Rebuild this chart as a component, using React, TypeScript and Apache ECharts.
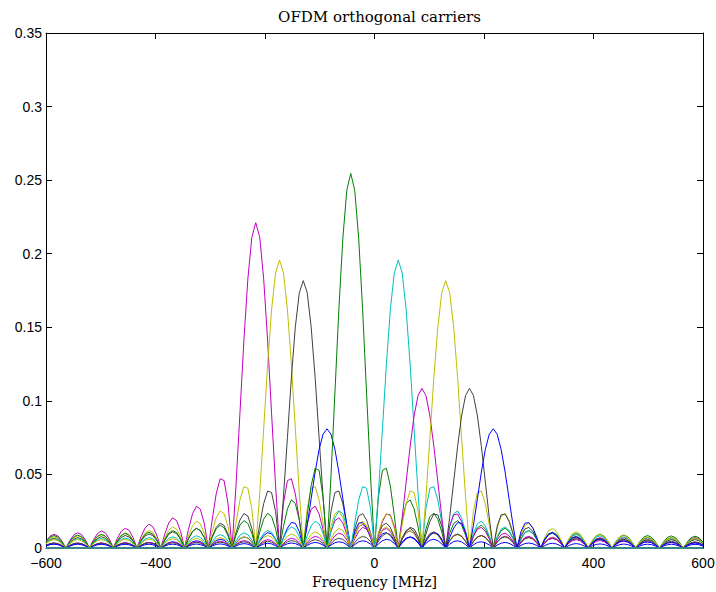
import React, { useEffect, useRef } from "react";
import * as echarts from "echarts";

// Frequency grid of the spectrum samples, MHz
const freqMHz = [
  -600, -592.8, -585.5, -578.3, -571.1, -563.9, -556.6, -549.4, -542.2, -534.9,
  -527.7, -520.5, -513.3, -506.0, -498.8, -491.6, -484.3, -477.1, -469.9, -462.7,
  -455.4, -448.2, -441.0, -433.7, -426.5, -419.3, -412.0, -404.8, -397.6, -390.4,
  -383.1, -375.9, -368.7, -361.4, -354.2, -347.0, -339.8, -332.5, -325.3, -318.1,
  -310.8, -303.6, -296.4, -289.2, -281.9, -274.7, -267.5, -260.2, -253.0, -245.8,
  -238.6, -231.3, -224.1, -216.9, -209.6, -202.4, -195.2, -188.0, -180.7, -173.5,
  -166.3, -159.0, -151.8, -144.6, -137.3, -130.1, -122.9, -115.7, -108.4, -101.2,
  -94.0, -86.7, -79.5, -72.3, -65.1, -57.8, -50.6, -43.4, -36.1, -28.9,
  -21.7, -14.5, -7.2,
  0,
  7.2, 14.5, 21.7, 28.9, 36.1, 43.4, 50.6, 57.8, 65.1, 72.3,
  79.5, 86.7, 94.0, 101.2, 108.4, 115.7, 122.9, 130.1, 137.3, 144.6,
  151.8, 159.0, 166.3, 173.5, 180.7, 188.0, 195.2, 202.4, 209.6, 216.9,
  224.1, 231.3, 238.6, 245.8, 253.0, 260.2, 267.5, 274.7, 281.9, 289.2,
  296.4, 303.6, 310.8, 318.1, 325.3, 332.5, 339.8, 347.0, 354.2, 361.4,
  368.7, 375.9, 383.1, 390.4, 397.6, 404.8, 412.0, 419.3, 426.5, 433.7,
  441.0, 448.2, 455.4, 462.7, 469.9, 477.1, 484.3, 491.6, 498.8, 506.0,
  513.3, 520.5, 527.7, 534.9, 542.2, 549.4, 556.6, 563.9, 571.1, 578.3,
  585.5, 592.8, 600,
];

// Magnitude spectra of the active subcarriers, in units of 1e-4
const carrierN5 = [
  45, 80, 93, 82, 48,
  0, 50, 88, 103, 91, 53,
  0, 56, 98, 116, 103, 61,
  0, 64, 113, 134, 120, 71,
  0, 76, 135, 162, 145, 87,
  0, 94, 170, 205, 186, 113,
  0, 126, 231, 284, 264, 164,
  0, 193, 367, 471, 458, 302,
  0, 423, 915, 1408, 1829, 2111,
  2211,
  2111, 1829, 1408, 915, 423, 0,
  302, 458, 471, 367, 193, 0,
  164, 264, 284, 231, 126, 0,
  113, 186, 205, 170, 94, 0,
  87, 145, 162, 135, 76, 0,
  71, 120, 134, 113, 64, 0,
  61, 103, 116, 98, 56, 0,
  53, 91, 103, 88, 50, 0,
  48, 82, 93, 80, 45, 0,
  44, 75, 86, 74, 42, 0,
  41, 70, 81, 69, 40, 0,
  39, 67, 76, 66, 38, 0,
  37, 64, 73, 63, 36, 0,
  36, 62, 71, 61, 35, 0,
  35, 61, 70, 60, 35, 0,
  35, 60, 69, 60, 35, 0,
  35, 60, 69, 60, 35, 0,
  35, 60, 70, 61, 35, 0,
  35, 61, 71, 62, 36,
];

const carrierN4 = [
  37, 65, 76, 67, 39,
  0, 40, 70, 83, 73, 43,
  0, 44, 77, 91, 80, 47,
  0, 49, 87, 103, 91, 54,
  0, 56, 100, 119, 106, 63,
  0, 67, 120, 143, 128, 77,
  0, 83, 150, 182, 165, 100,
  0, 111, 205, 252, 233, 145,
  0, 171, 325, 417, 406, 268,
  0, 374, 810, 1246, 1619, 1869,
  1957,
  1869, 1619, 1246, 810, 374, 0,
  268, 406, 417, 325, 171, 0,
  145, 233, 252, 205, 111, 0,
  100, 165, 182, 150, 83, 0,
  77, 128, 143, 120, 67, 0,
  63, 106, 119, 100, 56, 0,
  54, 91, 103, 87, 49, 0,
  47, 80, 91, 77, 44, 0,
  43, 73, 83, 70, 40, 0,
  39, 67, 76, 65, 37, 0,
  36, 62, 71, 61, 35, 0,
  34, 59, 68, 58, 33, 0,
  33, 57, 65, 56, 32, 0,
  32, 55, 63, 54, 31, 0,
  31, 54, 62, 53, 31, 0,
  31, 53, 61, 53, 31, 0,
  31, 53, 61, 53, 31, 0,
  31, 53, 62, 54, 31,
];

const carrierN3 = [
  32, 57, 66, 58, 34,
  0, 35, 60, 71, 62, 36,
  0, 37, 65, 77, 67, 40,
  0, 41, 72, 85, 75, 44,
  0, 46, 81, 95, 84, 50,
  0, 52, 93, 110, 98, 58,
  0, 62, 111, 133, 119, 71,
  0, 77, 140, 169, 153, 93,
  0, 103, 190, 234, 217, 134,
  0, 159, 302, 387, 377, 248,
  0, 347, 752, 1157, 1503, 1735,
  1817,
  1735, 1503, 1157, 752, 347, 0,
  248, 377, 387, 302, 159, 0,
  134, 217, 234, 190, 103, 0,
  93, 153, 169, 140, 77, 0,
  71, 119, 133, 111, 62, 0,
  58, 98, 110, 93, 52, 0,
  50, 84, 95, 81, 46, 0,
  44, 75, 85, 72, 41, 0,
  40, 67, 77, 65, 37, 0,
  36, 62, 71, 60, 35, 0,
  34, 58, 66, 57, 32, 0,
  32, 55, 63, 54, 31, 0,
  31, 53, 60, 52, 30, 0,
  30, 51, 59, 50, 29, 0,
  29, 50, 57, 50, 29, 0,
  28, 49, 57, 49, 28, 0,
  28, 49, 57, 49, 28,
];

const carrierN2 = [
  14, 24, 28, 24, 14,
  0, 14, 25, 30, 26, 15,
  0, 15, 27, 32, 28, 16,
  0, 17, 29, 34, 30, 18,
  0, 18, 32, 38, 33, 20,
  0, 20, 36, 42, 38, 22,
  0, 23, 42, 49, 44, 26,
  0, 28, 50, 59, 53, 32,
  0, 34, 62, 75, 68, 41,
  0, 46, 85, 104, 97, 60,
  0, 71, 135, 173, 168, 111,
  0, 155, 335, 516, 670, 773,
  810,
  773, 670, 516, 335, 155, 0,
  111, 168, 173, 135, 71, 0,
  60, 97, 104, 85, 46, 0,
  41, 68, 75, 62, 34, 0,
  32, 53, 59, 50, 28, 0,
  26, 44, 49, 42, 23, 0,
  22, 38, 42, 36, 20, 0,
  20, 33, 38, 32, 18, 0,
  18, 30, 34, 29, 17, 0,
  16, 28, 32, 27, 15, 0,
  15, 26, 30, 25, 14, 0,
  14, 24, 28, 24, 14, 0,
  14, 23, 27, 23, 13, 0,
  13, 23, 26, 23, 13, 0,
  13, 22, 26, 22, 13, 0,
  13, 22, 25, 22, 13,
];

const carrierN1 = [
  42, 73, 85, 74, 43,
  0, 43, 76, 88, 77, 45,
  0, 46, 80, 93, 81, 47,
  0, 48, 85, 99, 87, 51,
  0, 52, 92, 107, 94, 55,
  0, 57, 101, 118, 105, 61,
  0, 64, 113, 134, 118, 70,
  0, 73, 130, 155, 138, 82,
  0, 87, 156, 186, 167, 100,
  0, 108, 196, 236, 214, 130,
  0, 145, 266, 327, 303, 188,
  0, 222, 423, 542, 528, 348,
  0, 487, 1054, 1621, 2106, 2431,
  2546,
  2431, 2106, 1621, 1054, 487, 0,
  348, 528, 542, 423, 222, 0,
  188, 303, 327, 266, 145, 0,
  130, 214, 236, 196, 108, 0,
  100, 167, 186, 156, 87, 0,
  82, 138, 155, 130, 73, 0,
  70, 118, 134, 113, 64, 0,
  61, 105, 118, 101, 57, 0,
  55, 94, 107, 92, 52, 0,
  51, 87, 99, 85, 48, 0,
  47, 81, 93, 80, 46, 0,
  45, 77, 88, 76, 43, 0,
  43, 74, 85, 73, 42, 0,
  41, 71, 82, 71, 41, 0,
  40, 70, 80, 70, 40,
];

const carrierP1 = [
  31, 53, 62, 54, 31,
  0, 31, 54, 63, 55, 32,
  0, 32, 56, 65, 57, 33,
  0, 33, 58, 68, 59, 34,
  0, 35, 61, 71, 62, 36,
  0, 37, 65, 76, 67, 39,
  0, 40, 70, 83, 73, 43,
  0, 44, 77, 91, 80, 47,
  0, 49, 87, 103, 91, 54,
  0, 56, 100, 119, 106, 63,
  0, 67, 120, 143, 128, 77,
  0, 83, 150, 182, 165, 100,
  0, 111, 205, 252, 233, 145,
  0, 171, 325, 417, 406, 268,
  0, 374, 810, 1246, 1619, 1869,
  1957,
  1869, 1619, 1246, 810, 374, 0,
  268, 406, 417, 325, 171, 0,
  145, 233, 252, 205, 111, 0,
  100, 165, 182, 150, 83, 0,
  77, 128, 143, 120, 67, 0,
  63, 106, 119, 100, 56, 0,
  54, 91, 103, 87, 49, 0,
  47, 80, 91, 77, 44, 0,
  43, 73, 83, 70, 40, 0,
  39, 67, 76, 65, 37, 0,
  36, 62, 71, 61, 35, 0,
  34, 59, 68, 58, 33, 0,
  33, 57, 65, 56, 32,
];

const carrierP2 = [
  17, 29, 34, 29, 17,
  0, 17, 30, 34, 30, 17,
  0, 17, 30, 35, 30, 18,
  0, 18, 31, 36, 31, 18,
  0, 18, 32, 38, 33, 19,
  0, 19, 34, 40, 35, 20,
  0, 21, 36, 42, 37, 22,
  0, 22, 39, 46, 40, 24,
  0, 24, 43, 50, 45, 26,
  0, 27, 48, 57, 50, 30,
  0, 31, 56, 66, 59, 35,
  0, 37, 66, 79, 71, 43,
  0, 46, 83, 101, 91, 55,
  0, 62, 113, 140, 129, 80,
  0, 95, 180, 231, 225, 148,
  0, 207, 449, 691, 897, 1036,
  1085,
  1036, 897, 691, 449, 207, 0,
  148, 225, 231, 180, 95, 0,
  80, 129, 140, 113, 62, 0,
  55, 91, 101, 83, 46, 0,
  43, 71, 79, 66, 37, 0,
  35, 59, 66, 56, 31, 0,
  30, 50, 57, 48, 27, 0,
  26, 45, 50, 43, 24, 0,
  24, 40, 46, 39, 22, 0,
  22, 37, 42, 36, 21, 0,
  20, 35, 40, 34, 19, 0,
  19, 33, 38, 32, 18,
];

const carrierP3 = [
  28, 49, 57, 49, 28,
  0, 28, 49, 57, 49, 28,
  0, 29, 50, 57, 50, 29,
  0, 29, 50, 59, 51, 30,
  0, 30, 52, 60, 53, 31,
  0, 31, 54, 63, 55, 32,
  0, 32, 57, 66, 58, 34,
  0, 35, 60, 71, 62, 36,
  0, 37, 65, 77, 67, 40,
  0, 41, 72, 85, 75, 44,
  0, 46, 81, 95, 84, 50,
  0, 52, 93, 110, 98, 58,
  0, 62, 111, 133, 119, 71,
  0, 77, 140, 169, 153, 93,
  0, 103, 190, 234, 217, 134,
  0, 159, 302, 387, 377, 248,
  0, 347, 752, 1157, 1503, 1735,
  1817,
  1735, 1503, 1157, 752, 347, 0,
  248, 377, 387, 302, 159, 0,
  134, 217, 234, 190, 103, 0,
  93, 153, 169, 140, 77, 0,
  71, 119, 133, 111, 62, 0,
  58, 98, 110, 93, 52, 0,
  50, 84, 95, 81, 46, 0,
  44, 75, 85, 72, 41, 0,
  40, 67, 77, 65, 37, 0,
  36, 62, 71, 60, 35, 0,
  34, 58, 66, 57, 32,
];

const carrierP4 = [
  17, 30, 34, 30, 17,
  0, 17, 29, 34, 29, 17,
  0, 17, 29, 34, 29, 17,
  0, 17, 30, 34, 30, 17,
  0, 17, 30, 35, 30, 18,
  0, 18, 31, 36, 31, 18,
  0, 18, 32, 38, 33, 19,
  0, 19, 34, 40, 35, 20,
  0, 21, 36, 42, 37, 22,
  0, 22, 39, 46, 40, 24,
  0, 24, 43, 50, 45, 26,
  0, 27, 48, 57, 50, 30,
  0, 31, 56, 66, 59, 35,
  0, 37, 66, 79, 71, 43,
  0, 46, 83, 101, 91, 55,
  0, 62, 113, 140, 129, 80,
  0, 95, 180, 231, 225, 148,
  0, 207, 449, 691, 897, 1036,
  1085,
  1036, 897, 691, 449, 207, 0,
  148, 225, 231, 180, 95, 0,
  80, 129, 140, 113, 62, 0,
  55, 91, 101, 83, 46, 0,
  43, 71, 79, 66, 37, 0,
  35, 59, 66, 56, 31, 0,
  30, 50, 57, 48, 27, 0,
  26, 45, 50, 43, 24, 0,
  24, 40, 46, 39, 22, 0,
  22, 37, 42, 36, 21,
];

const carrierP5 = [
  13, 23, 26, 23, 13,
  0, 13, 22, 26, 22, 13,
  0, 13, 22, 25, 22, 13,
  0, 13, 22, 25, 22, 13,
  0, 13, 22, 26, 22, 13,
  0, 13, 23, 26, 23, 13,
  0, 13, 23, 27, 23, 14,
  0, 14, 24, 28, 24, 14,
  0, 14, 25, 30, 26, 15,
  0, 15, 27, 32, 28, 16,
  0, 17, 29, 34, 30, 18,
  0, 18, 32, 38, 33, 20,
  0, 20, 36, 42, 38, 22,
  0, 23, 42, 49, 44, 26,
  0, 28, 50, 59, 53, 32,
  0, 34, 62, 75, 68, 41,
  0, 46, 85, 104, 97, 60,
  0, 71, 135, 173, 168, 111,
  0, 155, 335, 516, 670, 773,
  810,
  773, 670, 516, 335, 155, 0,
  111, 168, 173, 135, 71, 0,
  60, 97, 104, 85, 46, 0,
  41, 68, 75, 62, 34, 0,
  32, 53, 59, 50, 28, 0,
  26, 44, 49, 42, 23, 0,
  22, 38, 42, 36, 20, 0,
  20, 33, 38, 32, 18, 0,
  18, 30, 34, 29, 17,
];

// Idle subcarriers (DC and band edges) stay at zero across the band
const idleFreqMHz = [-600, 600];
const idleLevel = [0, 0];

const VALUE_UNIT = 1e-4;

const xTickLabels = ["\u2212600", "\u2212400", "\u2212200", "0", "200", "400", "600"];
const yTickLabels = ["0", "0.05", "0.1", "0.15", "0.2", "0.25", "0.3", "0.35"];

// MATLAB "lines" colour order
const COLORS = {
  blue: "#0000ff",
  green: "#008000",
  cyan: "#00bfbf",
  magenta: "#bf00bf",
  yellow: "#bfbf00",
  black: "#404040",
};

const carriers = [
  { values: carrierN5, color: COLORS.magenta },
  { values: carrierN4, color: COLORS.yellow },
  { values: carrierN3, color: COLORS.black },
  { values: carrierN2, color: COLORS.blue },
  { values: carrierN1, color: COLORS.green },
  { values: carrierP1, color: COLORS.cyan },
  { values: carrierP2, color: COLORS.magenta },
  { values: carrierP3, color: COLORS.yellow },
  { values: carrierP4, color: COLORS.black },
  { values: carrierP5, color: COLORS.blue },
];

const SANS = "'Liberation Sans', Arial, Helvetica, sans-serif";
const SERIF = "'DejaVu Serif', serif";

function buildOption() {
  const axisLine = { show: true, onZero: false, lineStyle: { color: "#000", width: 1 } };
  const axisTick = { show: true, inside: true, length: 6, lineStyle: { color: "#000", width: 1 } };

  const xBase = {
    type: "value",
    min: -600,
    max: 600,
    interval: 200,
    splitLine: { show: false },
    axisLine,
    axisTick,
  };
  const yBase = {
    type: "value",
    min: 0,
    max: 0.35,
    interval: 0.05,
    splitLine: { show: false },
    axisLine,
    axisTick,
  };

  const lineSeries = carriers.map((c) => ({
    type: "line",
    data: freqMHz.map((f, i) => [f, c.values[i] * VALUE_UNIT]),
    showSymbol: false,
    symbol: "none",
    silent: true,
    lineStyle: { width: 1, color: c.color },
    itemStyle: { color: c.color },
    emphasis: { disabled: true },
  }));

  const idleSeries = {
    type: "line",
    data: idleFreqMHz.map((f, i) => [f, idleLevel[i]]),
    showSymbol: false,
    symbol: "none",
    silent: true,
    lineStyle: { width: 2, color: "#3a8686" },
    itemStyle: { color: "#3a8686" },
    emphasis: { disabled: true },
  };

  return {
    animation: false,
    backgroundColor: "#ffffff",
    title: {
      text: "OFDM orthogonal carriers",
      left: 374.5,
      top: 4,
      textAlign: "center",
      textStyle: { fontFamily: SERIF, fontSize: 15, fontWeight: "normal", color: "#000" },
    },
    grid: {
      left: 46,
      right: 13,
      top: 33,
      bottom: 44,
      containLabel: false,
      outerBoundsMode: "none",
    },
    xAxis: [
      {
        ...xBase,
        position: "bottom",
        axisLabel: {
          show: true,
          margin: 8,
          lineHeight: 14,
          color: "#000",
          fontFamily: SANS,
          fontSize: 14,
          showMinLabel: true,
          showMaxLabel: true,
          formatter: (v: number) => xTickLabels[Math.round((v + 600) / 200)] ?? "",
        },
        name: "Frequency [MHz]",
        nameLocation: "middle",
        nameGap: 23,
        nameTextStyle: { fontFamily: SERIF, fontSize: 14, color: "#000" },
      },
      { ...xBase, position: "top", axisLabel: { show: false } },
    ],
    yAxis: [
      {
        ...yBase,
        position: "left",
        axisLabel: {
          show: true,
          margin: 4,
          lineHeight: 12,
          color: "#000",
          fontFamily: SANS,
          fontSize: 14,
          showMinLabel: true,
          showMaxLabel: true,
          formatter: (v: number) => yTickLabels[Math.round(v / 0.05)] ?? "",
        },
      },
      { ...yBase, position: "right", axisLabel: { show: false } },
    ],
    series: [...lineSeries, idleSeries],
  };
}

export default function App() {
  const ref = useRef<HTMLDivElement>(null);

  useEffect(() => {
    if (!ref.current) return;
    const chart = echarts.init(ref.current, null, { renderer: "svg" });
    chart.setOption(buildOption() as any);
    return () => chart.dispose();
  }, []);

  return (
    <div
      ref={ref}
      style={{ position: "fixed", left: 0, top: 0, width: 716, height: 592, background: "#fff" }}
    />
  );
}
